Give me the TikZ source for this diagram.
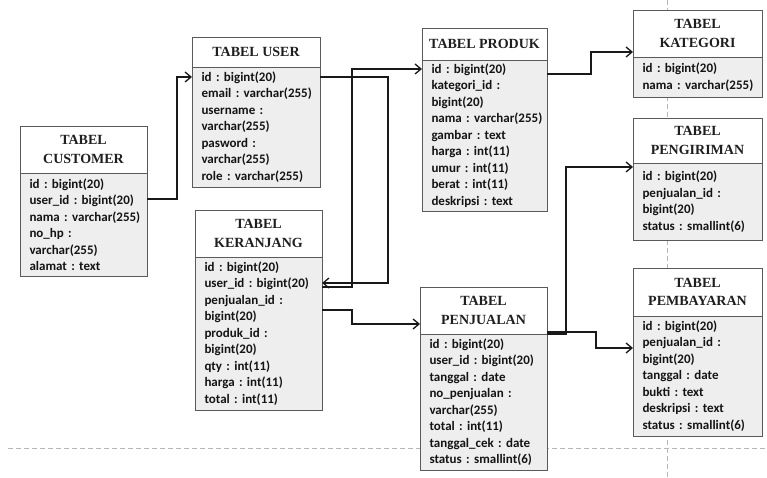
\documentclass[tikz,border=0pt]{standalone}
\usepackage{fontspec}
\setmainfont{Carlito}
\newfontfamily\headfont{Liberation Serif}
\usetikzlibrary{arrows.meta,calc}
\frenchspacing

\definecolor{bodyfill}{HTML}{EEEEEE}
\definecolor{boxline}{HTML}{5A5A5A}
\definecolor{guide}{HTML}{B8B8B8}

\tikzset{
  tblhead/.style={draw=boxline, line width=0.9pt, fill=white, outer sep=0pt,
    inner sep=2pt, align=center, text=black!88,
    font=\headfont\bfseries\fontsize{14}{18.5}\selectfont},
  tblbody/.style={draw=boxline, line width=0.9pt, fill=bodyfill, outer sep=0pt,
    inner xsep=0pt, inner ysep=0pt, align=left, text=black!92,
    font=\bfseries\fontsize{13}{16.5}\selectfont,
    execute at begin node={\leftskip=9.5pt\relax}},
  fk/.style={draw=black!90, line width=1.3pt,
    -{Straight Barb[length=6pt,width=10pt,line width=1.3pt]}},
  guideline/.style={draw=guide, line width=0.6pt, dash pattern=on 5pt off 3pt},
  joint/.style={fill=black!90},
}

% #1 name, #2 x, #3 top, #4 width, #5 header height, #6 body height, #7 title, #8 fields
\newcommand\mkTable[8]{%
  \node[tblhead, minimum width=#4pt, minimum height=#5pt, anchor=north west]
    (#1-h) at (#2,#3) {#7};
  \node[tblbody, text width=#4pt, minimum height=#6pt, anchor=north west]
    (#1-b) at (#1-h.south west) {#8};
}

\begin{document}
\begin{tikzpicture}[x=1pt,y=-1pt]
\useasboundingbox (0,0) rectangle (767,478);

% page guides
\draw[guideline] (667,0) -- (667,478);
\draw[guideline] (8,448) -- (767,448);

% tables
\mkTable{cust}{20}{126}{127}{47}{103}{TABEL\\CUSTOMER}
  {id : bigint(20)\\user\_id : bigint(20)\\nama : varchar(255)\\no\_hp :\\varchar(255)\\alamat : text}
\mkTable{user}{192}{37}{128}{30}{120}{TABEL USER}
  {id : bigint(20)\\email : varchar(255)\\username :\\varchar(255)\\pasword :\\varchar(255)\\role : varchar(255)}
\mkTable{ker}{195}{210}{127}{47}{153}{TABEL\\KERANJANG}
  {id : bigint(20)\\user\_id : bigint(20)\\penjualan\_id :\\bigint(20)\\produk\_id :\\bigint(20)\\qty : int(11)\\harga : int(11)\\total : int(11)}
\mkTable{prod}{422}{28}{125}{32}{151}{TABEL PRODUK}
  {id : bigint(20)\\kategori\_id :\\bigint(20)\\nama : varchar(255)\\gambar : text\\harga : int(11)\\umur : int(11)\\berat : int(11)\\deskripsi : text}
\mkTable{penj}{420}{287}{127}{47}{136}{TABEL\\PENJUALAN}
  {id : bigint(20)\\user\_id : bigint(20)\\tanggal : date\\no\_penjualan :\\varchar(255)\\total : int(11)\\tanggal\_cek : date\\status : smallint(6)}
\mkTable{kat}{633}{10}{129}{47}{40}{TABEL\\KATEGORI}
  {id : bigint(20)\\nama : varchar(255)}
\mkTable{kirim}{633}{118}{129}{45}{77}{TABEL\\PENGIRIMAN}
  {id : bigint(20)\\penjualan\_id :\\bigint(20)\\status : smallint(6)}
\mkTable{bayar}{633}{268}{129}{48}{120}{TABEL\\PEMBAYARAN}
  {id : bigint(20)\\penjualan\_id :\\bigint(20)\\tanggal : date\\bukti : text\\deskripsi : text\\status : smallint(6)}

% customer.user_id -> user.id
\draw[fk] ([yshift=-26pt]cust-b.north east) -- ++(30,0)
  |- ([yshift=-10pt]user-b.north west);

% user.id <-> keranjang.user_id and produk.id
\coordinate (uid) at ([yshift=-10pt]user-b.north east);
\coordinate (kuid) at ([yshift=-26pt]ker-b.north east);
\coordinate (kuidb) at ([yshift=-30pt]ker-b.north east);
\coordinate (pid) at ([yshift=-9pt]prod-b.north west);
\coordinate (outerbus) at ([xshift=68pt]uid);
\coordinate (innerbus) at ([xshift=32pt]uid);
\draw[fk] (uid) -- (outerbus) -- (outerbus |- kuid) -- (kuid);
\draw[fk] (kuidb) -- (kuidb -| innerbus) -- (innerbus |- pid) -- (pid);
\fill[joint] (innerbus) circle (1.6);
\fill[joint] (innerbus |- kuid) circle (1.6);

% keranjang.penjualan_id -> penjualan
\draw[fk] ([yshift=-53pt]ker-b.north east) -- ++(30,0)
  |- ([yshift=-37pt]penj-h.north west);

% produk.kategori_id -> kategori
\draw[fk] ([yshift=-14pt]prod-b.north east) -- ++(44,0)
  |- ([yshift=5pt]kat-h.south west);

% penjualan -> pengiriman, pembayaran
\coordinate (pj) at (penj-h.south east);
\draw[fk] (pj) -- ++(19,0) |- ([yshift=-4pt]kirim-b.north west);
\draw[fk] ([yshift=2pt]pj) -- ++(49,0) |- ([yshift=-32pt]bayar-b.north west);
\end{tikzpicture}
\end{document}
